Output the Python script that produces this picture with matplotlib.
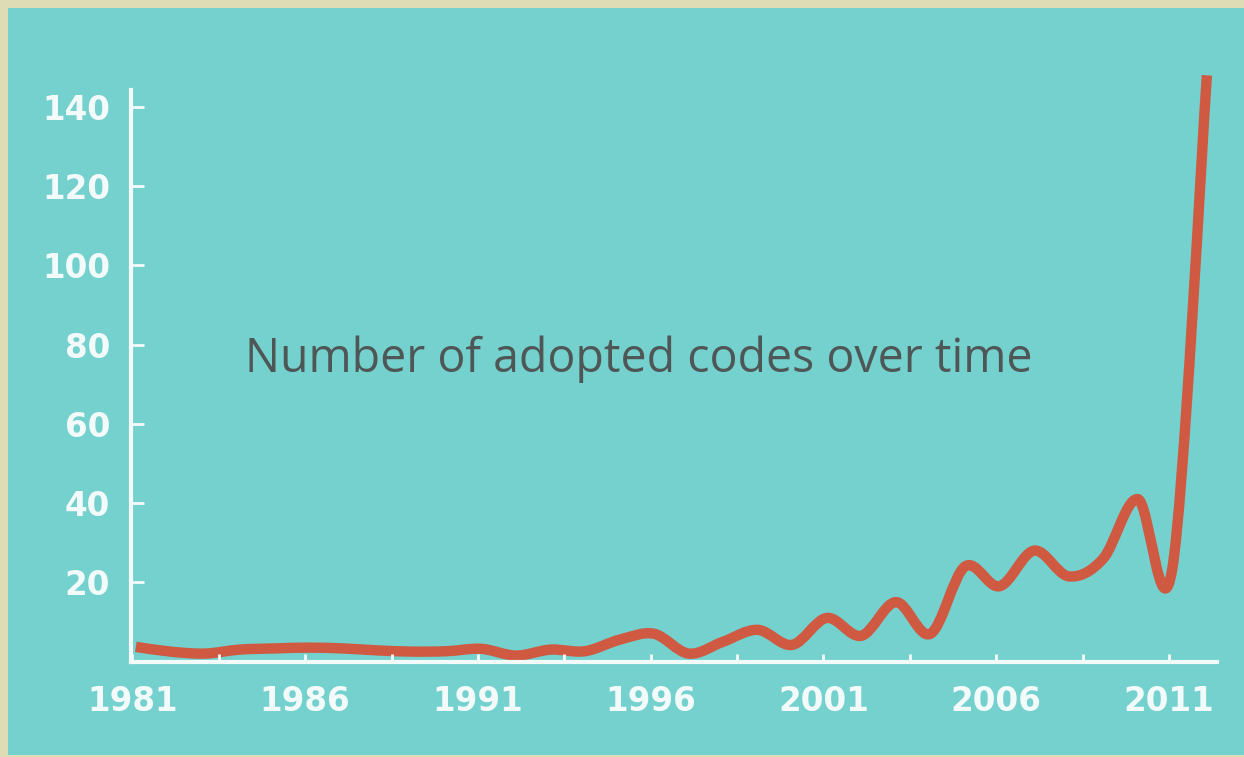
"""Number of adopted codes over time - smoothed line chart."""

import matplotlib.pyplot as plt
import numpy as np
from matplotlib.patches import PathPatch, Rectangle
from matplotlib.path import Path

# Data
years = list(range(1981, 2013))
codes = [3.7, 2.5, 2.0, 3.0, 3.3, 3.5, 3.3, 2.8, 2.5, 2.6, 3.2, 1.5,
         3.0, 2.6, 5.5, 7.0, 2.0, 5.0, 8.0, 4.2, 11.0, 6.5, 15.0, 7.0,
         24.0, 19.0, 28.0, 21.5, 26.0, 41.0, 23.5, 148.0]
xtick_years = [1981, 1986, 1991, 1996, 2001, 2006, 2011]
ytick_values = [20, 40, 60, 80, 100, 120, 140]

TEAL = "#75d1ce"
BEIGE = "#dddcb5"
LINE = "#cf5a41"
AXIS = "#f3fbfa"
TEXT = "#4e5656"


def smooth_path(x, y):
    """Catmull-Rom style Bezier path through the points (like Excel smoothing)."""
    pts = np.column_stack([x, y]).astype(float)
    n = len(pts)
    verts = [pts[0]]
    codes_ = [Path.MOVETO]
    for i in range(n - 1):
        p_prev = pts[i - 1] if i > 0 else pts[i]
        p0 = pts[i]
        p1 = pts[i + 1]
        p_next = pts[i + 2] if i + 2 < n else pts[i + 1]
        c1 = p0 + (p1 - p_prev) / 6.0
        c2 = p1 - (p_next - p0) / 6.0
        verts += [c1, c2, p1]
        codes_ += [Path.CURVE4] * 3
    return Path(verts, codes_)


fig = plt.figure(figsize=(12.44, 7.57), dpi=100)
fig.patch.set_facecolor(BEIGE)
W, H = 1244, 757
fig.patches.append(Rectangle((8 / W, 2 / H), 1 - 8 / W, 1 - 10 / H,
                             transform=fig.transFigure, facecolor=TEAL,
                             edgecolor="none", zorder=-10))

ax = fig.add_axes([131 / W, 1 - 661.5 / H, (1217 - 131) / W, (661.5 - 90) / H])
ax.set_facecolor("none")
ax.set_zorder(5)

patch = PathPatch(smooth_path(years, codes), facecolor="none", edgecolor=LINE,
                  linewidth=7.5, capstyle="butt", joinstyle="round", clip_on=False)
ax.add_patch(patch)

# category axis: tick marks sit slightly left of the data points
offset = 0.1
ax.set_xlim(1981 - 0.14, 1981 - 0.14 + (1217 - 131) / 34.55)
ax.set_ylim(0, 144.3)

for side in ["top", "right"]:
    ax.spines[side].set_visible(False)
for side in ["left", "bottom"]:
    ax.spines[side].set_color(AXIS)
    ax.spines[side].set_linewidth(3)

ax.set_xticks([y - offset for y in xtick_years], [str(y) for y in xtick_years])
ax.set_xticks([y + 2.5 - offset for y in xtick_years[:-1]], minor=True)
ax.set_yticks(ytick_values)
ax.tick_params(axis="both", which="both", direction="in", width=2, colors=AXIS)
ax.tick_params(axis="x", which="both", length=6)
ax.tick_params(axis="y", which="both", length=9)
ax.tick_params(axis="x", which="major", pad=17)
ax.tick_params(axis="y", which="major", pad=15)
for lbl in ax.get_xticklabels() + ax.get_yticklabels():
    lbl.set_fontsize(23.5)
    lbl.set_fontweight("bold")
    lbl.set_fontfamily("DejaVu Sans")
    lbl.set_color(AXIS)

fig.text(245 / W, 1 - 372 / H, "Number of adopted codes over time",
         fontsize=33.5, family="Open Sans", color=TEXT, ha="left", va="baseline",
         zorder=6)

plt.savefig("out.png", dpi=100, facecolor=fig.get_facecolor())
